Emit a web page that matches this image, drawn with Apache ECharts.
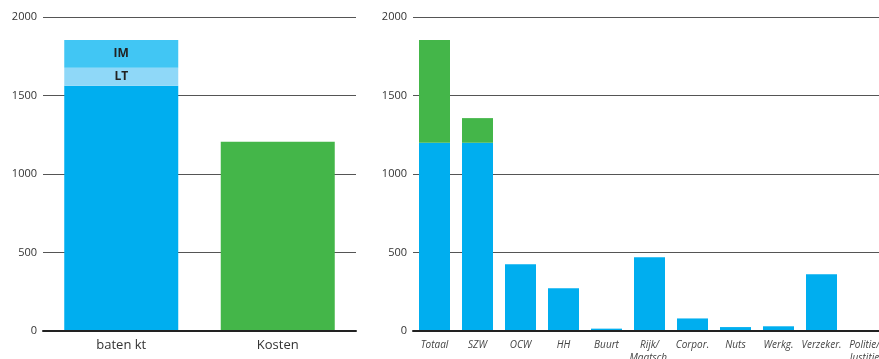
<!DOCTYPE html>
<html>
<head>
<meta charset="utf-8">
<script src="https://cdn.jsdelivr.net/npm/echarts@6/dist/echarts.min.js"></script>
<style>
html,body{margin:0;padding:0;background:#fff;}
#c{width:879px;height:359px;}
</style>
</head>
<body>
<div id="c"></div>
<script>
// Left chart data
var leftCategories = ['baten kt', 'Kosten'];
var leftBase = [1562, '-'];
var leftLT = [115, '-'];
var leftIM = [177, '-'];
var leftKosten = ['-', 1205];

// Right chart data
var rightCategories = ['Totaal', 'SZW', 'OCW', 'HH', 'Buurt', 'Rijk/\nMaatsch.', 'Corpor.', 'Nuts', 'Werkg.', 'Verzeker.', 'Politie/\nJustitie'];
var rightBlue = [1199, 1199, 425, 272, 15, 470, 80, 25, 30, 362, 0];
var rightGreen = [655, 157, 0, 0, 0, 0, 0, 0, 0, 0, 0];

var yTicks = [0, 500, 1000, 1500, 2000];

var BLUE = '#00AEEF', GREEN = '#44B649', LTC = '#8FD8F8', IMC = '#41C6F4';
var FONT = '"Open Sans", "DejaVu Sans", sans-serif';

function yAxis(gi) {
  return {
    type: 'value', gridIndex: gi, min: yTicks[0], max: yTicks[yTicks.length - 1], interval: 500,
    axisLine: { show: false }, axisTick: { show: false },
    axisLabel: { color: '#333', fontSize: 11, fontFamily: FONT, margin: 6, formatter: function (v) { return String(v); } },
    splitLine: { lineStyle: { color: '#555', width: 1 } }
  };
}

var chart = echarts.init(document.getElementById('c'), null, { renderer: 'canvas' });
chart.setOption({
  animation: false,
  grid: [
    { left: 43, top: 17, width: 313, height: 314, outerBoundsMode: 'none', containLabel: false },
    { left: 413, top: 17, width: 473, height: 314, outerBoundsMode: 'none', containLabel: false }
  ],
  xAxis: [
    {
      type: 'category', gridIndex: 0, data: leftCategories, z: 5,
      axisLine: { lineStyle: { color: '#222', width: 2 } }, axisTick: { show: false },
      axisLabel: { color: '#333', fontSize: 13, fontFamily: FONT, margin: 8 }
    },
    {
      type: 'category', gridIndex: 1, data: rightCategories, z: 5,
      axisLine: { lineStyle: { color: '#222', width: 2 } }, axisTick: { show: false },
      axisLabel: { color: '#444', fontSize: 10, fontStyle: 'italic', fontFamily: FONT, margin: 8, lineHeight: 13, interval: 0 }
    }
  ],
  yAxis: [yAxis(0), yAxis(1)],
  series: [
    { type: 'bar', xAxisIndex: 0, yAxisIndex: 0, stack: 'L', barWidth: 114, data: leftBase, itemStyle: { color: BLUE } },
    { type: 'bar', xAxisIndex: 0, yAxisIndex: 0, stack: 'L', barWidth: 114, data: leftLT, itemStyle: { color: LTC },
      label: { show: true, position: 'inside', formatter: 'LT', color: '#222', fontWeight: 'bold', fontSize: 12, fontFamily: FONT } },
    { type: 'bar', xAxisIndex: 0, yAxisIndex: 0, stack: 'L', barWidth: 114, data: leftIM, itemStyle: { color: IMC },
      label: { show: true, position: 'inside', formatter: 'IM', color: '#222', fontWeight: 'bold', fontSize: 12, fontFamily: FONT } },
    { type: 'bar', xAxisIndex: 0, yAxisIndex: 0, stack: 'L', barWidth: 114, data: leftKosten, itemStyle: { color: GREEN } },
    { type: 'bar', xAxisIndex: 1, yAxisIndex: 1, stack: 'R', barWidth: 31, data: rightBlue, itemStyle: { color: BLUE } },
    { type: 'bar', xAxisIndex: 1, yAxisIndex: 1, stack: 'R', barWidth: 31, data: rightGreen, itemStyle: { color: GREEN } }
  ]
});
</script>
</body>
</html>
